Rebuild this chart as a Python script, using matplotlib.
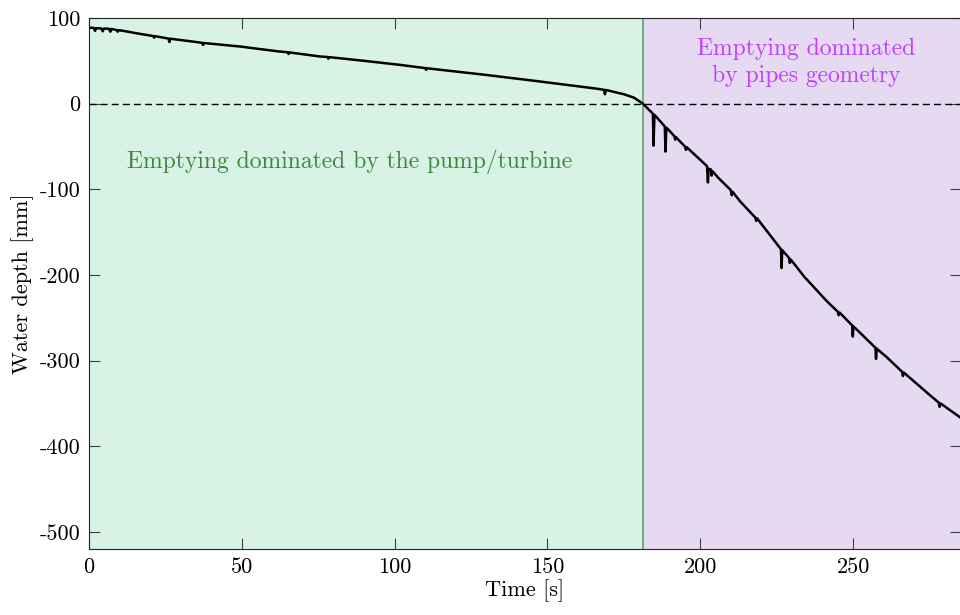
'''
water depth during emptying of the reservoir
'''

import numpy as np
import matplotlib.pyplot as plt

plt.rcParams['font.family'] = ['cmr10', 'DejaVu Serif']
plt.rcParams['mathtext.fontset'] = 'cm'
plt.rcParams['axes.unicode_minus'] = False
plt.rcParams['font.size'] = 16

# readings (small downward spikes included)
time_s = [0, 1.5, 2, 2.3, 4, 4.5, 4.8, 6.5, 7, 7.3, 9, 9.4, 9.7, 12, 15, 20, 21, 21.3, 21.6,
          26, 26.3, 26.6, 35, 37, 37.3, 37.6, 50, 52, 62, 65, 65.3, 65.6, 75.7, 78, 78.3, 78.6,
          90, 101.9, 110, 110.3, 110.6, 120, 130, 138, 145, 155, 165, 168.5, 168.8, 169.1, 172,
          175, 178.3, 181.2, 184, 184.5, 184.7, 185, 186, 188, 188.4, 188.6, 188.9, 190, 191.5,
          191.8, 192, 193.6, 195, 195.3, 195.6, 201.3, 202.2, 202.5, 202.7, 203.5, 203.7, 204,
          206, 210, 210.3, 210.6, 213, 218, 218.3, 218.6, 226.4, 226.6, 226.8, 229, 229.3, 229.6,
          234, 241.5, 245, 245.3, 245.6, 249.7, 249.9, 250.1, 257.3, 257.5, 257.7, 261, 266,
          266.3, 266.6, 275, 278, 278.3, 278.6, 285.3]
depth_mm = [88.7, 88.5, 85, 88.2, 87.8, 84.5, 87.6, 87.5, 84, 87.2, 86, 84, 85.8, 84.5, 82.5, 79.5,
            79, 77, 78.8, 76, 72, 75.8, 72, 71, 68.5, 70.8, 66.5, 65.5, 61, 60, 58, 59.8, 55, 54.5,
            52.5, 54.3, 50, 45.2, 41.5, 39.5, 41.3, 37.5, 33.5, 30, 27, 22.5, 18, 16.2, 11, 16,
            13.5, 11, 7, 0, -10, -12, -49, -13, -17, -25, -27, -56, -28, -32, -38, -42, -39, -45,
            -50, -54, -51, -70, -73, -92, -76, -77, -84, -79, -87, -101, -107, -103, -114, -133,
            -137, -134, -170, -192, -171, -180, -186, -182, -202, -231, -243, -247, -244, -259,
            -272, -260, -285, -298, -286, -296, -313, -318, -314, -340, -349, -354, -350, -367]

t_switch = 181.1
t_end = 285.3

fig = plt.figure(figsize=(9.6, 6.15), dpi=100)
ax = fig.add_axes([89 / 960, 66 / 615, 872 / 960, 531 / 615])

ax.axvspan(0, t_switch, color='#d9f2e6', lw=0)
ax.axvspan(t_switch, t_end, color='#e6d9f2', lw=0)
ax.axvline(t_switch, color='#5e9e6e', lw=1.2)
ax.axhline(0, color='black', lw=1, ls=(0, (5, 3)))

ax.plot(time_s, depth_mm, color='black', lw=1.8)

ax.text(12.5, -68, 'Emptying dominated by the pump/turbine', color='#3a8a3a',
        ha='left', va='center', fontsize=17)
ax.text(234.7, 48, 'Emptying dominated\nby pipes geometry', color='#bf40ff',
        ha='center', va='center', linespacing=1.3, fontsize=17)

ax.set_xlim(0, t_end)
ax.set_ylim(-520, 100)
ax.set_xticks([0, 50, 100, 150, 200, 250])
ax.set_yticks([100, 0, -100, -200, -300, -400, -500])
ax.tick_params(direction='in', length=8, top=True, right=True, color='#404040', pad=6)
for s in ax.spines.values():
    s.set_color('#262626')
ax.set_xlabel('Time [s]', labelpad=2)
ax.set_ylabel('Water depth [mm]', labelpad=4)

plt.savefig('out.png', dpi=100)
